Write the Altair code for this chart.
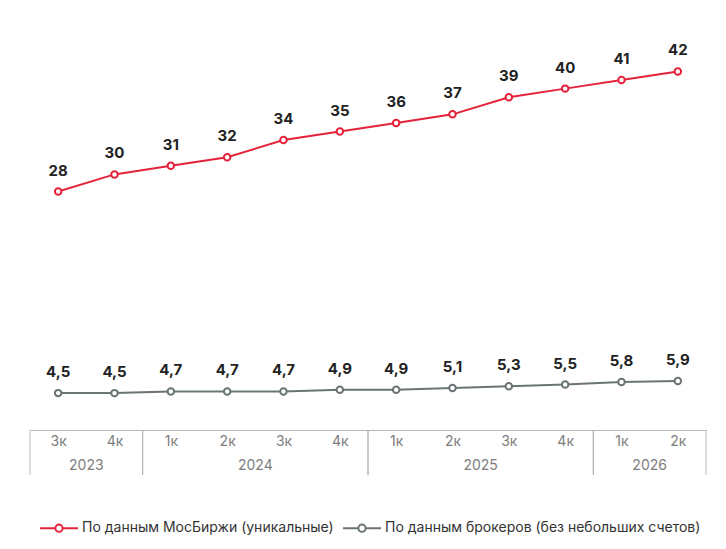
import altair as alt
import pandas as pd

quarters = ["3к", "4к", "1к", "2к", "3к", "4к", "1к", "2к", "3к", "4к", "1к", "2к"]
years = [2023, 2023, 2024, 2024, 2024, 2024, 2025, 2025, 2025, 2025, 2026, 2026]
moex = [28, 30, 31, 32, 34, 35, 36, 37, 39, 40, 41, 42]
brokers = [4.5, 4.5, 4.7, 4.7, 4.7, 4.9, 4.9, 5.1, 5.3, 5.5, 5.8, 5.9]
series_names = ["По данным МосБиржи (уникальные)", "По данным брокеров (без небольших счетов)"]
colors = ["#e4233b", "#6b7474"]


def fmt(v, d):
    return f"{v:.{d}f}".replace(".", ",")


rows = []
for i, (q, y, a, b) in enumerate(zip(quarters, years, moex, brokers)):
    rows.append(dict(idx=i, quarter=q, year=str(y), series=series_names[0], value=a, label=fmt(a, 0)))
    rows.append(dict(idx=i, quarter=q, year=str(y), series=series_names[1], value=b, label=fmt(b, 1)))
df = pd.DataFrame(rows)
df_q = df[df.series == series_names[0]]

W, H = 676, 410
FONT = "Inter"
AXIS_GRAY = "#b3b8ba"
LABEL_GRAY = "#7d7d7d"

xscale = alt.Scale(domain=[-0.5, len(quarters) - 0.5], nice=False, zero=False)
yscale = alt.Scale(domain=[0.2, 48], nice=False, zero=False)
label_expr = "[" + ",".join(f"'{q}'" for q in quarters) + "][datum.value]"
xaxis = alt.Axis(
    values=list(range(len(quarters))), labelExpr=label_expr, ticks=False, grid=False,
    domainColor=AXIS_GRAY, domainWidth=1, labelColor=LABEL_GRAY, labelFontSize=14,
    labelFont=FONT, labelPadding=4, title=None, labelFlush=False,
)

sym = "M-1,0L-0.19,0M0.19,0L1,0M-0.19,0A0.19,0.19,0,1,1,0.19,0A0.19,0.19,0,1,1,-0.19,0"
color = alt.Color(
    "series:N",
    scale=alt.Scale(domain=series_names, range=colors),
    legend=alt.Legend(
        title=None, orient="none", legendX=9, legendY=488, direction="horizontal", columns=2,
        symbolType=sym, symbolSize=1444, symbolStrokeWidth=2, symbolFillColor="white",
        labelFont=FONT, labelFontSize=14, labelColor="#333333", labelLimit=500,
        labelOffset=3, columnPadding=5,
    ),
)

base = alt.Chart(df)
x = alt.X("idx:Q", scale=xscale, axis=xaxis)
y = alt.Y("value:Q", scale=yscale, axis=None)

lines = base.mark_line(strokeWidth=2).encode(x=x, y=y, color=color)
points = base.mark_point(shape="circle", fill="white", filled=False, size=42, strokeWidth=2, opacity=1).encode(
    x=x, y=y, color=color
)
texts = base.mark_text(dy=-21, fontSize=15, fontWeight="bold", font=FONT, color="#222222").encode(
    x=x, y=y, text="label:N"
)

year_text = alt.Chart(df_q).transform_aggregate(
    mid="mean(idx)", groupby=["year"]
).mark_text(fontSize=14, font=FONT, color=LABEL_GRAY, baseline="middle").encode(
    x=alt.X("mid:Q", scale=xscale, axis=xaxis), y=alt.value(H + 36), text="year:N"
)

seps = alt.Chart(df_q).transform_aggregate(
    lo="min(idx)", hi="max(idx)", groupby=["year"]
).transform_fold(["lo", "hi"]).transform_calculate(
    bx="datum.value + (datum.key == 'lo' ? -0.5 : 0.5)"
).mark_rule(color=AXIS_GRAY, strokeWidth=1).encode(
    x=alt.X("bx:Q", scale=xscale, axis=xaxis), y=alt.value(H), y2=alt.value(H + 45)
)

chart = alt.layer(seps, year_text, lines, points, texts).properties(
    width=W, height=H, padding={"left": 21, "top": 12, "right": 5, "bottom": 5}
).configure_view(stroke=None)

chart.save("out.html", embed_options={"renderer": "svg", "actions": False})
